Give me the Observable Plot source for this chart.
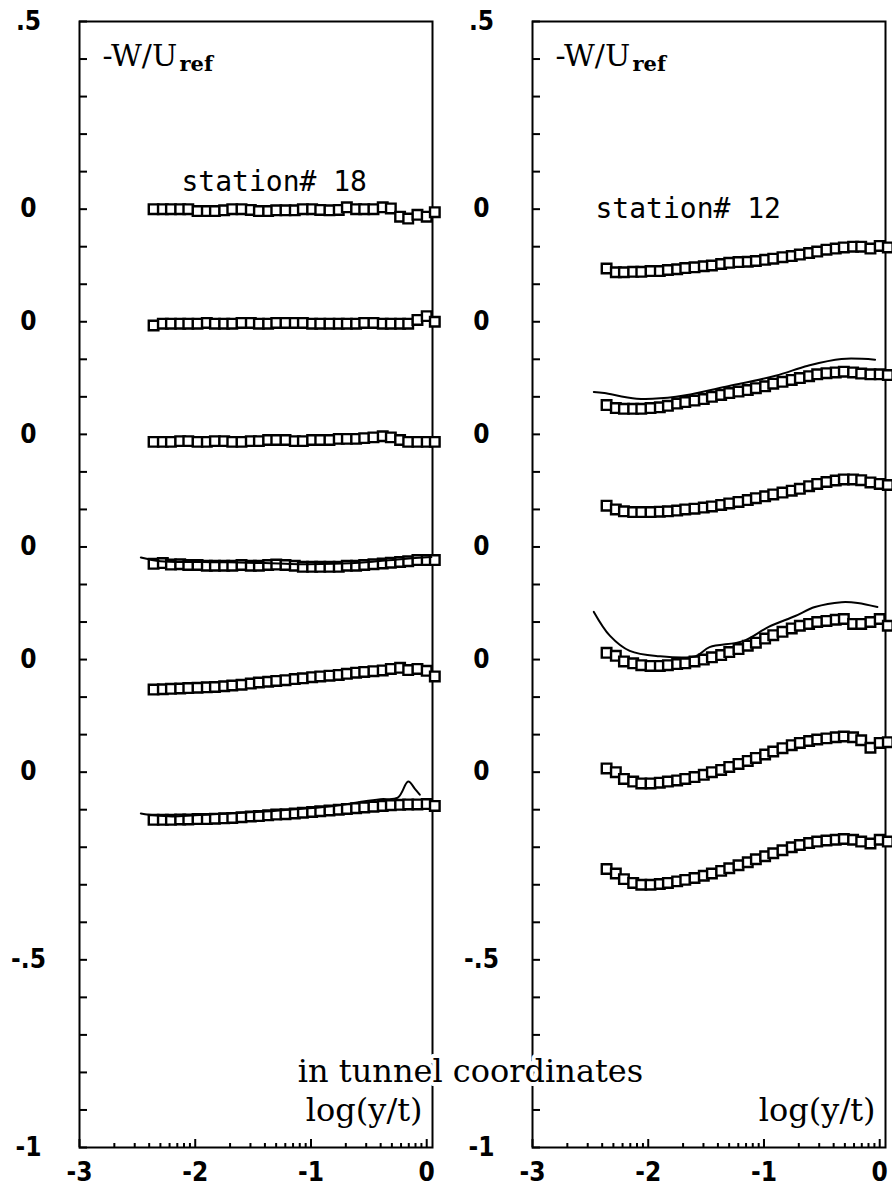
<!DOCTYPE html>
<html><head><meta charset="utf-8">
<script src="https://cdn.jsdelivr.net/npm/d3@7"></script>
<script src="https://cdn.jsdelivr.net/npm/@observablehq/plot@0.6"></script>
<style>
body{margin:0;background:#fff;}
#chart svg{display:block;background:#fff;}
</style></head><body><div id="chart"></div>
<script>
// ---------- data ----------
const stations = ["18", "12"];
const logYT = [-2.36, -2.28, -2.21, -2.13, -2.06, -1.98, -1.90, -1.83, -1.75, -1.68, -1.60, -1.52, -1.45, -1.37, -1.30, -1.22, -1.14, -1.07, -0.99, -0.92, -0.84, -0.76, -0.69, -0.61, -0.54, -0.46, -0.38, -0.31, -0.23, -0.16, -0.08, 0.00, 0.07];
const seriesOffsets = [0, -0.3, -0.6, -0.9, -1.2, -1.5];

// station 18, -W/Uref measured (squares)
const st18_1 = [0, 0, 0, 0, 0, -0.005, -0.005, -0.005, -0.003, 0, 0, -0.002, -0.005, -0.005, -0.003, -0.003, -0.003, 0, 0, -0.002, -0.003, -0.002, 0.005, 0, 0, 0, 0.005, 0.002, -0.02, -0.025, -0.015, -0.02, -0.008];
const st18_2 = [-0.01, -0.005, -0.005, -0.005, -0.005, -0.005, -0.003, -0.005, -0.005, -0.005, -0.003, -0.003, -0.005, -0.005, -0.003, -0.003, -0.003, -0.003, -0.005, -0.005, -0.005, -0.005, -0.005, -0.005, -0.003, -0.003, -0.005, -0.005, -0.005, -0.005, 0.005, 0.015, 0.0];
const st18_3 = [-0.02, -0.02, -0.02, -0.018, -0.018, -0.02, -0.02, -0.018, -0.018, -0.02, -0.02, -0.018, -0.018, -0.015, -0.015, -0.015, -0.018, -0.018, -0.015, -0.015, -0.015, -0.012, -0.012, -0.012, -0.01, -0.008, -0.005, -0.008, -0.015, -0.02, -0.02, -0.02, -0.02];
const st18_4 = [-0.045, -0.043, -0.047, -0.046, -0.048, -0.048, -0.05, -0.05, -0.05, -0.05, -0.048, -0.05, -0.05, -0.048, -0.047, -0.048, -0.05, -0.053, -0.053, -0.053, -0.053, -0.053, -0.05, -0.05, -0.048, -0.046, -0.044, -0.042, -0.04, -0.038, -0.035, -0.035, -0.035];
const st18_5 = [-0.08, -0.079, -0.078, -0.077, -0.076, -0.075, -0.074, -0.073, -0.071, -0.069, -0.067, -0.064, -0.061, -0.059, -0.057, -0.055, -0.052, -0.05, -0.047, -0.045, -0.043, -0.041, -0.038, -0.035, -0.033, -0.031, -0.029, -0.025, -0.022, -0.028, -0.025, -0.03, -0.045];
const st18_6 = [-0.127, -0.127, -0.127, -0.126, -0.126, -0.125, -0.125, -0.124, -0.123, -0.122, -0.12, -0.118, -0.117, -0.115, -0.113, -0.112, -0.11, -0.108, -0.106, -0.104, -0.102, -0.1, -0.098, -0.096, -0.094, -0.092, -0.09, -0.088, -0.087, -0.086, -0.086, -0.085, -0.09];

// station 12, measured (squares)
const st12_1 = [-0.158, -0.168, -0.168, -0.167, -0.167, -0.165, -0.165, -0.162, -0.16, -0.157, -0.155, -0.152, -0.15, -0.146, -0.143, -0.141, -0.14, -0.138, -0.135, -0.132, -0.128, -0.125, -0.121, -0.117, -0.113, -0.108, -0.105, -0.102, -0.1, -0.1, -0.105, -0.098, -0.102];
const st12_2 = [-0.222, -0.23, -0.232, -0.232, -0.232, -0.23, -0.228, -0.224, -0.218, -0.214, -0.21, -0.206, -0.2, -0.195, -0.19, -0.186, -0.182, -0.177, -0.172, -0.165, -0.16, -0.155, -0.15, -0.145, -0.14, -0.137, -0.135, -0.133, -0.135, -0.138, -0.14, -0.14, -0.142];
const st12_3 = [-0.19, -0.2, -0.205, -0.207, -0.207, -0.207, -0.206, -0.205, -0.203, -0.2, -0.198, -0.195, -0.192, -0.188, -0.184, -0.18, -0.175, -0.17, -0.165, -0.16, -0.155, -0.15, -0.145, -0.138, -0.132, -0.127, -0.123, -0.12, -0.12, -0.122, -0.128, -0.132, -0.135];
const st12_4 = [-0.282, -0.29, -0.305, -0.31, -0.315, -0.317, -0.317, -0.315, -0.312, -0.31, -0.305, -0.3, -0.294, -0.288, -0.28, -0.272, -0.263, -0.255, -0.244, -0.235, -0.226, -0.217, -0.21, -0.205, -0.2, -0.197, -0.194, -0.192, -0.205, -0.205, -0.2, -0.192, -0.21];
const st12_5 = [-0.29, -0.3, -0.318, -0.325, -0.33, -0.33, -0.328, -0.325, -0.322, -0.318, -0.313, -0.307, -0.3, -0.294, -0.286, -0.278, -0.27, -0.262, -0.253, -0.245, -0.236, -0.228, -0.222, -0.217, -0.213, -0.21, -0.207, -0.205, -0.207, -0.215, -0.235, -0.222, -0.22];
const st12_6 = [-0.258, -0.27, -0.285, -0.295, -0.3, -0.3, -0.298, -0.295, -0.291, -0.287, -0.282, -0.276, -0.27, -0.263, -0.256, -0.248, -0.24, -0.232, -0.224, -0.216, -0.208, -0.2, -0.194, -0.189, -0.185, -0.182, -0.18, -0.178, -0.18, -0.185, -0.19, -0.18, -0.185];

// computed curves (solid lines)
const line18_4x = [-2.47, -2.3, -2.0, -1.7, -1.4, -1.1, -0.8, -0.5, -0.2, 0.04];
const line18_4w = [-0.028, -0.038, -0.04, -0.041, -0.043, -0.046, -0.045, -0.04, -0.032, -0.027];
const line18_6x = [-2.47, -2.35, -2.2, -2.0, -1.7, -1.4, -1.1, -0.8, -0.55, -0.4, -0.25, -0.16, -0.1, -0.06];
const line18_6w = [-0.11, -0.115, -0.118, -0.115, -0.11, -0.105, -0.098, -0.09, -0.078, -0.072, -0.068, -0.025, -0.045, -0.06];
const line12_2x = [-2.47, -2.38, -2.10, -1.76, -1.33, -0.90, -0.62, -0.33, -0.04];
const line12_2w = [-0.187, -0.19, -0.205, -0.2, -0.173, -0.144, -0.117, -0.099, -0.101];
const line12_4x = [-2.47, -2.33, -2.16, -1.91, -1.59, -1.47, -1.18, -0.96, -0.73, -0.56, -0.33, -0.19, -0.02];
const line12_4w = [-0.173, -0.237, -0.277, -0.291, -0.291, -0.267, -0.251, -0.213, -0.184, -0.16, -0.147, -0.149, -0.16];

// axes
const yTickValues = [0.5, 0, -0.3, -0.6, -0.9, -1.2, -1.5, -2.0, -2.5];
const yTickLabels = [".5", "0", "0", "0", "0", "0", "0", "-.5", "-1"];
const xTickValues = [-3, -2, -1, 0];
const xTickLabels = ["-3", "-2", "-1", "0"];

// ---------- tables ----------
const measured = [];
[["18", [st18_1, st18_2, st18_3, st18_4, st18_5, st18_6]],
 ["12", [st12_1, st12_2, st12_3, st12_4, st12_5, st12_6]]].forEach(([st, list]) =>
  list.forEach((vals, i) => vals.forEach((w, j) =>
    measured.push({station: st, series: i, x: logYT[j], y: w + seriesOffsets[i]}))));

const curves = [];
[["18", 3, line18_4x, line18_4w], ["18", 5, line18_6x, line18_6w],
 ["12", 1, line12_2x, line12_2w], ["12", 3, line12_4x, line12_4w]].forEach(([st, i, xs, ws]) =>
  xs.forEach((x, j) => curves.push({station: st, series: st + "-" + i, x, y: ws[j] + seriesOffsets[i]})));

const yLabelOf = new Map(yTickValues.map((v, i) => [v, yTickLabels[i]]));
const xLabelOf = new Map(xTickValues.map((v, i) => [v, xTickLabels[i]]));
const yMinor = d3.range(-25, 6).map(k => k / 10);
const xMinor = [-3, -2, -1].flatMap(d => [2, 3, 4, 5, 6, 7, 8, 9].map(k => d + Math.log10(k)));

const tickFont = "'Liberation Sans Narrow','DejaVu Sans Condensed','Roboto Condensed',sans-serif";
const serif = "'DejaVu Serif','Liberation Serif',serif";

const chart = Plot.plot({
  width: 892, height: 1199,
  marginLeft: 78, marginRight: 6, marginTop: 21, marginBottom: 52,
  style: {background: "#fff", color: "#000"},
  fx: {domain: stations, paddingInner: 0.22, paddingOuter: 0, axis: null, label: null},
  x: {domain: [-3, 0.05], axis: null},
  y: {domain: [-2.5, 0.5], axis: null},
  marks: [
    Plot.frame({stroke: "#000", strokeWidth: 2}),
    // y ticks (inward), then labels
    Plot.axisY(yMinor, {tickSize: -8, fill: "none", label: null, strokeWidth: 2, facetAnchor: null}),
    Plot.axisY(yTickValues, {tickSize: 0, tickPadding: 51, textAnchor: "middle", tickFormat: d => yLabelOf.get(d), label: null,
      fontFamily: tickFont, fontWeight: "bold", fontSize: 26, fill: "#000", facetAnchor: null}),
    // x ticks (inward), then labels
    Plot.axisX(xMinor, {anchor: "bottom", tickSize: -4, fill: "none", label: null, strokeWidth: 2, facetAnchor: null}),
    Plot.axisX(xTickValues, {anchor: "bottom", tickSize: -8, fill: "none", label: null, strokeWidth: 2, facetAnchor: null}),
    Plot.axisX(xTickValues, {anchor: "bottom", tickSize: 0, tickPadding: 15, tickFormat: d => xLabelOf.get(d), label: null,
      fontFamily: tickFont, fontWeight: "bold", fontSize: 26, fill: "#000", facetAnchor: null}),
    // measured data
    Plot.dot(measured, {fx: "station", x: "x", y: "y", symbol: "square", r: 5.4,
      stroke: "#000", strokeWidth: 2.4, fill: "#fff"}),
    // computed curves
    Plot.line(curves, {fx: "station", x: "x", y: "y", z: "series", stroke: "#000", strokeWidth: 2, curve: "catmull-rom"}),
    // labels
    Plot.text(stations.map(s => ({station: s})), {fx: "station", text: () => "-W/U", frameAnchor: "top-left",
      textAnchor: "start", lineAnchor: "bottom", dx: 23, dy: 44, fontFamily: serif, fontSize: 30, fill: "#000"}),
    Plot.text(stations.map(s => ({station: s})), {fx: "station", text: () => "ref", frameAnchor: "top-left",
      textAnchor: "start", lineAnchor: "bottom", dx: 100, dy: 49, fontFamily: serif, fontSize: 21, fontWeight: "bold", fill: "#000"}),
    Plot.text([{station: "18", label: "station# 18"}], {fx: "station", text: "label", frameAnchor: "top-left",
      textAnchor: "start", lineAnchor: "bottom", dx: 102, dy: 169, fontFamily: "'DejaVu Sans Mono',monospace", fontSize: 28, fill: "#000"}),
    Plot.text([{station: "12", label: "station# 12"}], {fx: "station", text: "label", frameAnchor: "top-left",
      textAnchor: "start", lineAnchor: "bottom", dx: 63, dy: 196, fontFamily: "'DejaVu Sans Mono',monospace", fontSize: 28, fill: "#000"}),
    Plot.text(stations.map(s => ({station: s})), {fx: "station", text: () => "log(y/t)", frameAnchor: "bottom-right",
      textAnchor: "end", lineAnchor: "bottom", dx: -10, dy: -27, fontFamily: serif, fontSize: 32, fill: "#000"}),
    Plot.text([{station: "12", label: "in tunnel coordinates"}], {fx: "station", text: "label", frameAnchor: "bottom-left",
      textAnchor: "middle", lineAnchor: "bottom", dx: -62, dy: -66, fontFamily: serif, fontSize: 32, fill: "#000",
      stroke: "#fff", strokeWidth: 8, paintOrder: "stroke"})
  ]
});
document.getElementById("chart").append(chart);
</script></body></html>
